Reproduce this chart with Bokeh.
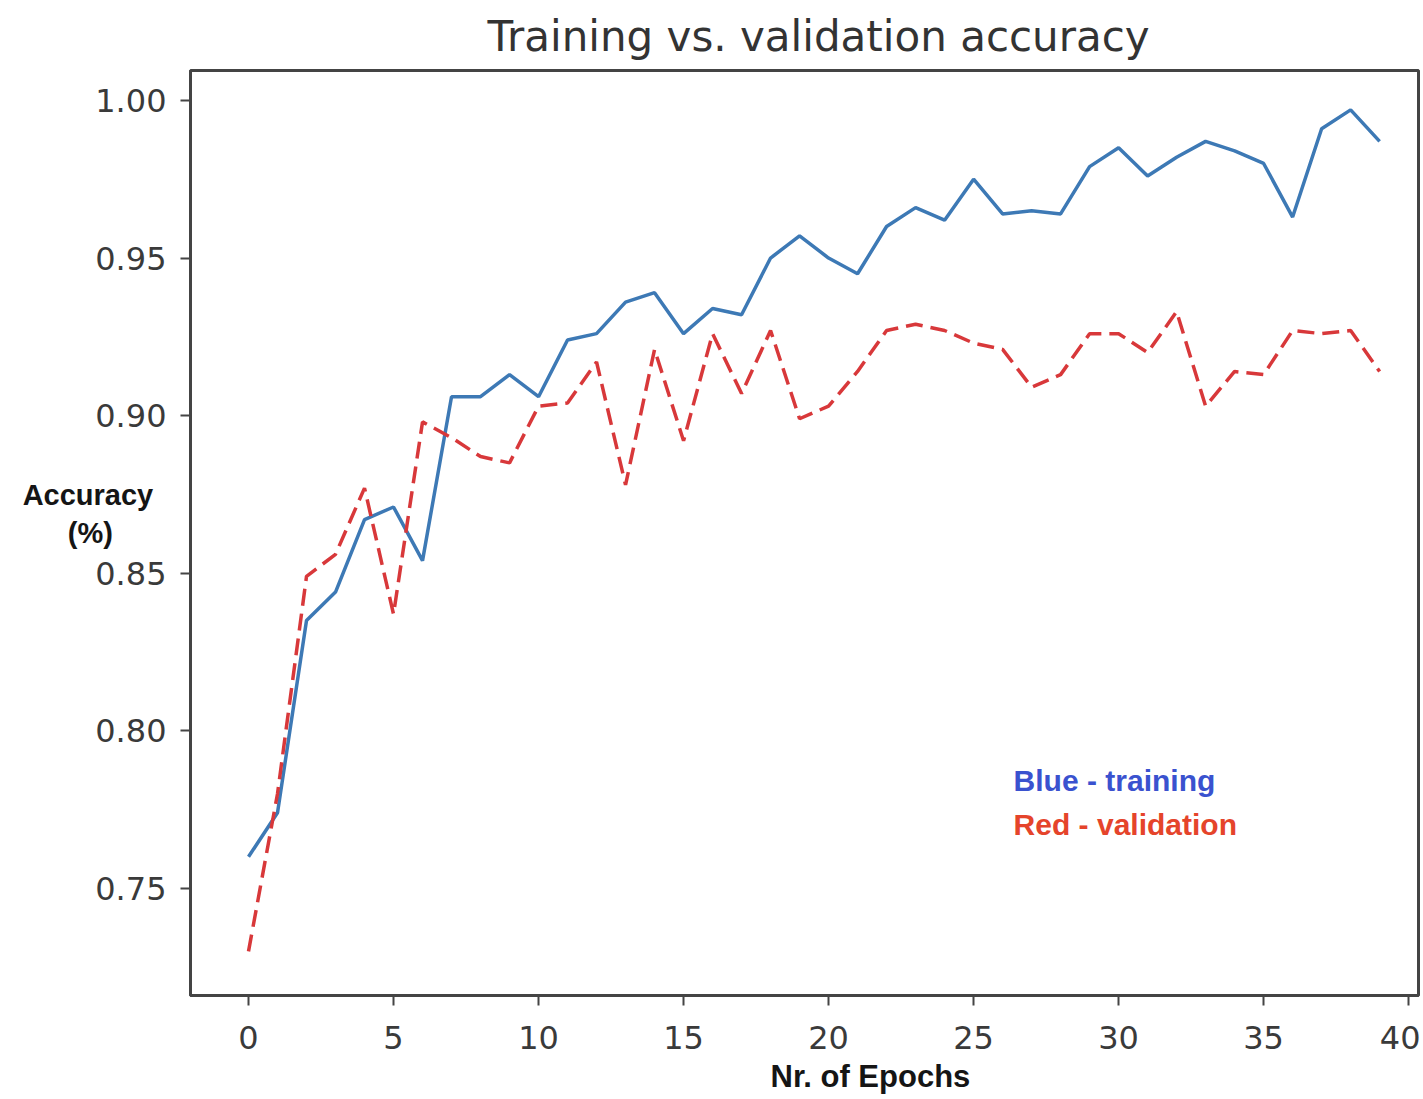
from bokeh.plotting import figure
from bokeh.models import Range1d, FixedTicker, PrintfTickFormatter, Label, Title
from bokeh.embed import file_html
from bokeh.resources import INLINE

epochs = list(range(40))
training_acc = [0.760, 0.774, 0.835, 0.844, 0.867, 0.871, 0.854, 0.906, 0.906, 0.913,
                0.906, 0.924, 0.926, 0.936, 0.939, 0.926, 0.934, 0.932, 0.950, 0.957,
                0.950, 0.945, 0.960, 0.966, 0.962, 0.975, 0.964, 0.965, 0.964, 0.979,
                0.985, 0.976, 0.982, 0.987, 0.984, 0.980, 0.963, 0.991, 0.997, 0.987]
validation_acc = [0.730, 0.780, 0.849, 0.856, 0.877, 0.837, 0.898, 0.893, 0.887, 0.885,
                  0.903, 0.904, 0.917, 0.878, 0.921, 0.892, 0.926, 0.907, 0.927, 0.899,
                  0.903, 0.914, 0.927, 0.929, 0.927, 0.923, 0.921, 0.909, 0.913, 0.926,
                  0.926, 0.920, 0.933, 0.903, 0.914, 0.913, 0.927, 0.926, 0.927, 0.914]
x_ticks = [0, 5, 10, 15, 20, 25, 30, 35, 40]
y_ticks = [0.75, 0.80, 0.85, 0.90, 0.95, 1.00]

title_text = "Training vs. validation accuracy"
x_label = "Nr. of Epochs"
y_label_lines = ["Accuracy", "(%)"]
legend_texts = ["Blue - training", "Red - validation"]

NBSP = "\u00a0"
y_label = y_label_lines[0] + "\n" + y_label_lines[1] + NBSP * 5 + "\n" + NBSP

p = figure(width=1420, height=1099, output_backend="svg", toolbar_location=None,
           x_range=Range1d(-2.0, 40.34), y_range=Range1d(0.7160, 1.0095),
           min_border_left=190, min_border_right=2, min_border_top=70, min_border_bottom=103)

p.add_layout(Title(text=title_text, align="left", offset=297, standoff=19,
                   text_font="DejaVu Sans", text_font_size="42px",
                   text_font_style="normal", text_color="#333333"), "above")

p.background_fill_color = "white"
p.border_fill_color = "white"
p.outline_line_color = "#444444"
p.outline_line_width = 3
p.xgrid.visible = False
p.ygrid.visible = False

for ax in (p.xaxis[0], p.yaxis[0]):
    ax.axis_line_color = "#444444"
    ax.axis_line_width = 3
    ax.major_tick_line_color = "#444444"
    ax.major_tick_line_width = 2
    ax.major_tick_out = 10
    ax.major_tick_in = 0
    ax.minor_tick_line_color = None
    ax.major_label_text_font = "DejaVu Sans"
    ax.major_label_text_font_size = "32px"
    ax.major_label_text_color = "#3a3a3a"
    ax.major_label_standoff = 14

p.xaxis[0].major_label_standoff = 20
p.xaxis.ticker = FixedTicker(ticks=x_ticks)
p.yaxis.ticker = FixedTicker(ticks=y_ticks)
p.yaxis.formatter = PrintfTickFormatter(format="%.2f")

yax = p.yaxis[0]
yax.axis_label = y_label
yax.axis_label_text_font = "Liberation Sans"
yax.axis_label_text_font_style = "bold"
yax.axis_label_text_font_size = "29px"
yax.axis_label_text_color = "#151515"
yax.axis_label_orientation = "horizontal"
yax.axis_label_standoff = -61

p.add_layout(Title(text=x_label, align="left", offset=580, standoff=11,
                   text_font="Liberation Sans", text_font_style="bold",
                   text_font_size="31px", text_color="#151515"), "below")

p.line(epochs, training_acc, line_color="#3d79b5", line_width=3.5)
p.line(epochs, validation_acc, line_color="#d8383a", line_width=3.5, line_dash="17 8")

bold = dict(text_font="Liberation Sans", text_font_style="bold", text_font_size="30px")
p.add_layout(Label(x=26.38, y=0.7842, text=legend_texts[0], text_align="left",
                   text_baseline="middle", text_color="#3a52cf", **bold))
p.add_layout(Label(x=26.38, y=0.7702, text=legend_texts[1], text_align="left",
                   text_baseline="middle", text_color="#e5442b", **bold))

open("out.html", "w").write(file_html(p, INLINE))
